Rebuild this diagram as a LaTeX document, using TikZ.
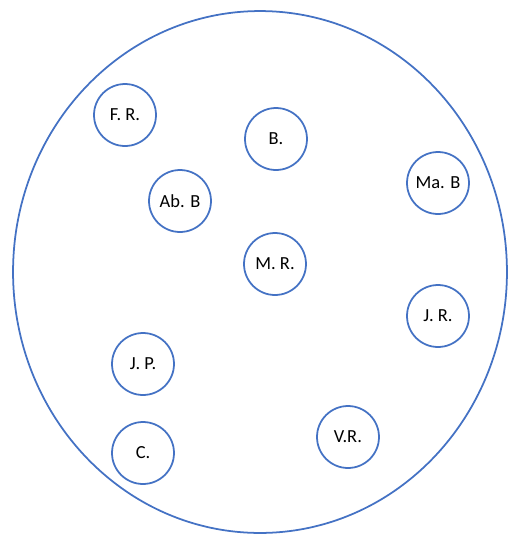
\documentclass[tikz,border=0pt]{standalone}
\usepackage{fontspec}
\setmainfont{Carlito}
\usepackage{tikz}
\usetikzlibrary{positioning,shapes.geometric}
\definecolor{ink}      {HTML}{000000}
\definecolor{officeblue}{HTML}{4472C4}
\tikzset{
  every node/.style={font=\fontsize{10.5}{12}\selectfont},
  % --- nodes
  pers/.style  = {circle, draw=officeblue, line width=1pt, fill=white,
                  minimum size=1.24cm, inner sep=0pt, text=ink},
  % --- outline
  group/.style = {ellipse, draw=officeblue, line width=1pt, inner sep=0pt},
}
\begin{document}
\begin{tikzpicture}[x=0.02cm,y=-0.02cm]
  \useasboundingbox (0,0) rectangle (509,535);
  \node[group, minimum width=9.88cm, minimum height=10.44cm] (fam) at (260,272) {};
  \node[pers] (fr)  at (125,115) {F. R.};
  \node[pers] (b)   at (276,139) {B.};
  \node[pers] (abb) at (180,201) {Ab. B};
  \node[pers] (mab) at (438,183) {Ma. B};
  \node[pers] (mr)  at (275,264) {M. R.};
  \node[pers] (jr)  at (438,316) {J. R.};
  \node[pers] (jp)  at (143,364) {J. P.};
  \node[pers] (c)   at (143,453) {C.};
  \node[pers] (vr)  at (348,437) {V.R.};
\end{tikzpicture}
\end{document}
